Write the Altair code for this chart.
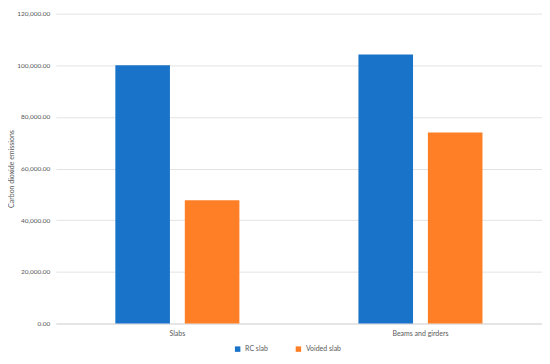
import altair as alt
import pandas as pd

categories = ["Slabs", "Slabs", "Beams and girders", "Beams and girders"]
series = ["RC slab", "Voided slab", "RC slab", "Voided slab"]
values = [100000, 47700, 104200, 74000]

df = pd.DataFrame({"category": categories, "series": series, "value": values})

cat_order = ["Slabs", "Beams and girders"]
ser_order = ["RC slab", "Voided slab"]
colors = ["#1873C9", "#FF7F27"]

font = "Lato"
grey = "#595959"

bars = alt.Chart(df).mark_bar().encode(
    x=alt.X("category:N", sort=cat_order,
            scale=alt.Scale(paddingInner=0, paddingOuter=0),
            axis=alt.Axis(title=None, labelAngle=0, labelFontSize=7, labelColor=grey,
                          labelFont=font, ticks=False, domain=True, domainColor="#D9D9D9",
                          labelPadding=6)),
    xOffset=alt.XOffset("series:N", sort=ser_order,
                        scale=alt.Scale(paddingInner=0.214, paddingOuter=0.857)),
    y=alt.Y("value:Q", scale=alt.Scale(domain=[0, 120000], nice=False),
            axis=alt.Axis(title="Carbon dioxide emissions", format=",.2f",
                          values=[0, 20000, 40000, 60000, 80000, 100000, 120000],
                          labelFontSize=6.5, labelColor=grey, labelFont=font,
                          titleFontSize=7, titleColor=grey, titleFont=font,
                          titleFontWeight="normal", titlePadding=2,
                          domain=False, ticks=False, labelPadding=6,
                          grid=True, gridColor="#E3E3E3")),
    color=alt.Color("series:N", sort=ser_order,
                    scale=alt.Scale(domain=ser_order, range=colors),
                    legend=alt.Legend(title=None, orient="none", direction="horizontal",
                                      legendX=179, legendY=333, symbolType="square",
                                      symbolSize=30, labelFontSize=7, labelColor=grey,
                                      labelFont=font, columnPadding=27)),
)

chart = bars.properties(
    width=488, height=311,
    autosize=alt.AutoSizeParams(type="none"),
    padding={"left": 48, "top": 5, "right": 0, "bottom": 32},
).configure_view(stroke=None)

chart.save("out.html", embed_options={"renderer": "svg", "actions": False})
